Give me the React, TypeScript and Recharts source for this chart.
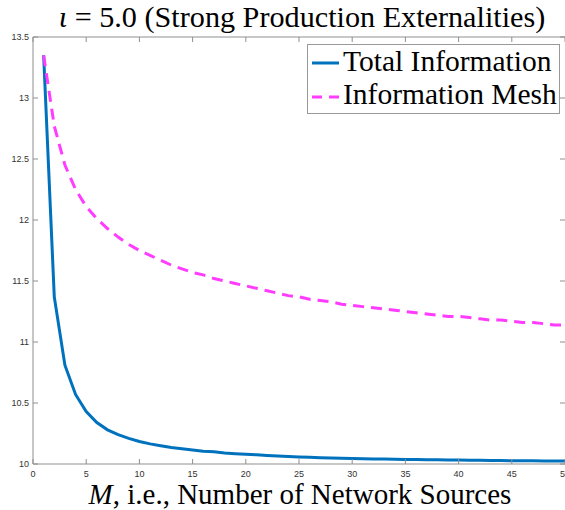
import { Legend, Line, LineChart, ReferenceLine, XAxis, YAxis } from "recharts";

// M = 1..50
const M = [
  1, 2, 3, 4, 5, 6, 7, 8, 9, 10, 11, 12, 13, 14, 15, 16, 17, 18, 19, 20, 21,
  22, 23, 24, 25, 26, 27, 28, 29, 30, 31, 32, 33, 34, 35, 36, 37, 38, 39, 40,
  41, 42, 43, 44, 45, 46, 47, 48, 49, 50,
];

const TOTAL = [
  13.35, 11.37, 10.81, 10.57, 10.43, 10.34, 10.28, 10.24, 10.21, 10.185,
  10.165, 10.15, 10.135, 10.125, 10.115, 10.105, 10.1, 10.09, 10.085, 10.08,
  10.075, 10.07, 10.066, 10.062, 10.058, 10.055, 10.052, 10.05, 10.048, 10.046,
  10.044, 10.042, 10.04, 10.039, 10.037, 10.036, 10.035, 10.034, 10.033,
  10.032, 10.031, 10.03, 10.029, 10.028, 10.027, 10.027, 10.026, 10.025,
  10.025, 10.024,
];

const MESH = [
  13.35, 12.77, 12.45, 12.25, 12.11, 12.01, 11.93, 11.86, 11.8, 11.75, 11.71,
  11.67, 11.63, 11.6, 11.57, 11.55, 11.52, 11.5, 11.48, 11.46, 11.44, 11.42,
  11.4, 11.38, 11.37, 11.35, 11.34, 11.33, 11.31, 11.3, 11.29, 11.28, 11.27,
  11.26, 11.25, 11.24, 11.23, 11.22, 11.21, 11.21, 11.2, 11.19, 11.18, 11.18,
  11.17, 11.16, 11.16, 11.15, 11.14, 11.14,
];

const X_TICKS = [0, 5, 10, 15, 20, 25, 30, 35, 40, 45, 50];
const Y_TICKS = [10, 10.5, 11, 11.5, 12, 12.5, 13, 13.5];

const SERIES = [
  { key: "total", name: "Total Information", color: "#0072BD", dash: undefined },
  { key: "mesh", name: "Information Mesh", color: "#FF3CFF", dash: "11 7" },
];

const W = 565;
const H = 510;
const LEFT = 33;
const TOP = 37;
const BOTTOM = 464;
const RIGHT = 565;
const AXIS = "#8f8f8f";
const SERIF = "'Liberation Serif', serif";
const SANS = "'Liberation Sans', Arial, sans-serif";

const data = M.map((m, i) => ({ m, total: TOTAL[i], mesh: MESH[i] }));

function XTick({ x, payload }: any) {
  return (
    <g>
      <line x1={x} y1={BOTTOM} x2={x} y2={BOTTOM - 5} stroke={AXIS} />
      <line x1={x} y1={TOP} x2={x} y2={TOP + 5} stroke={AXIS} />
      <text x={x} y={477} textAnchor="middle" fontFamily={SANS} fontSize={9} fill="#333">
        {payload.value}
      </text>
    </g>
  );
}

function YTick({ y, payload }: any) {
  return (
    <g>
      <line x1={LEFT} y1={y} x2={LEFT + 5} y2={y} stroke={AXIS} />
      <line x1={RIGHT} y1={y} x2={RIGHT - 5} y2={y} stroke={AXIS} />
      <text x={29} y={y + 3.3} textAnchor="end" fontFamily={SANS} fontSize={9} fill="#333">
        {payload.value}
      </text>
    </g>
  );
}

function LegendBox() {
  return (
    <svg width={253} height={70} style={{ display: "block" }}>
      <rect x={0.5} y={0.5} width={252} height={69} fill="#fff" stroke="#999" />
      {SERIES.map((s, i) => (
        <g key={s.key}>
          <line
            x1={5}
            x2={32}
            y1={19 + i * 34}
            y2={19 + i * 34}
            stroke={s.color}
            strokeWidth={3}
            strokeDasharray={s.dash ? "10 7" : undefined}
          />
          <text x={36} y={27 + i * 33} fontFamily={SERIF} fontSize={29.5} fill="#000">
            {s.name}
          </text>
        </g>
      ))}
    </svg>
  );
}

export default function App() {
  return (
    <div style={{ position: "absolute", left: 0, top: 0, width: W, height: H, background: "#fff" }}>
      <LineChart width={W} height={H} data={data} margin={{ top: TOP, right: 0, bottom: 0, left: 0 }}>
        <text x={302} y={27} textAnchor="middle" fontFamily={SERIF} fontSize={30.2} fill="#000">
          <tspan fontStyle="italic">ι</tspan> = 5.0 (Strong Production Externalities)
        </text>
        <text x={300} y={504} textAnchor="middle" fontFamily={SERIF} fontSize={29} fill="#000">
          <tspan fontStyle="italic">M</tspan>, i.e., Number of Network Sources
        </text>
        <XAxis
          dataKey="m"
          type="number"
          domain={[0, 50]}
          ticks={X_TICKS}
          height={H - BOTTOM}
          stroke={AXIS}
          tickLine={false}
          tick={<XTick />}
          interval={0}
        />
        <YAxis
          type="number"
          domain={[10, 13.5]}
          ticks={Y_TICKS}
          width={LEFT}
          stroke={AXIS}
          tickLine={false}
          tick={<YTick />}
          interval={0}
        />
        <ReferenceLine y={13.5} stroke={AXIS} />
        {SERIES.map((s) => (
          <Line
            key={s.key}
            type="linear"
            dataKey={s.key}
            name={s.name}
            stroke={s.color}
            strokeWidth={3}
            strokeDasharray={s.dash}
            dot={false}
            isAnimationActive={false}
          />
        ))}
        <Legend
          layout="horizontal"
          align="center"
          verticalAlign="middle"
          content={() => <LegendBox />}
          wrapperStyle={{ left: 307, top: 44, width: 253, height: 70 }}
        />
      </LineChart>
    </div>
  );
}
